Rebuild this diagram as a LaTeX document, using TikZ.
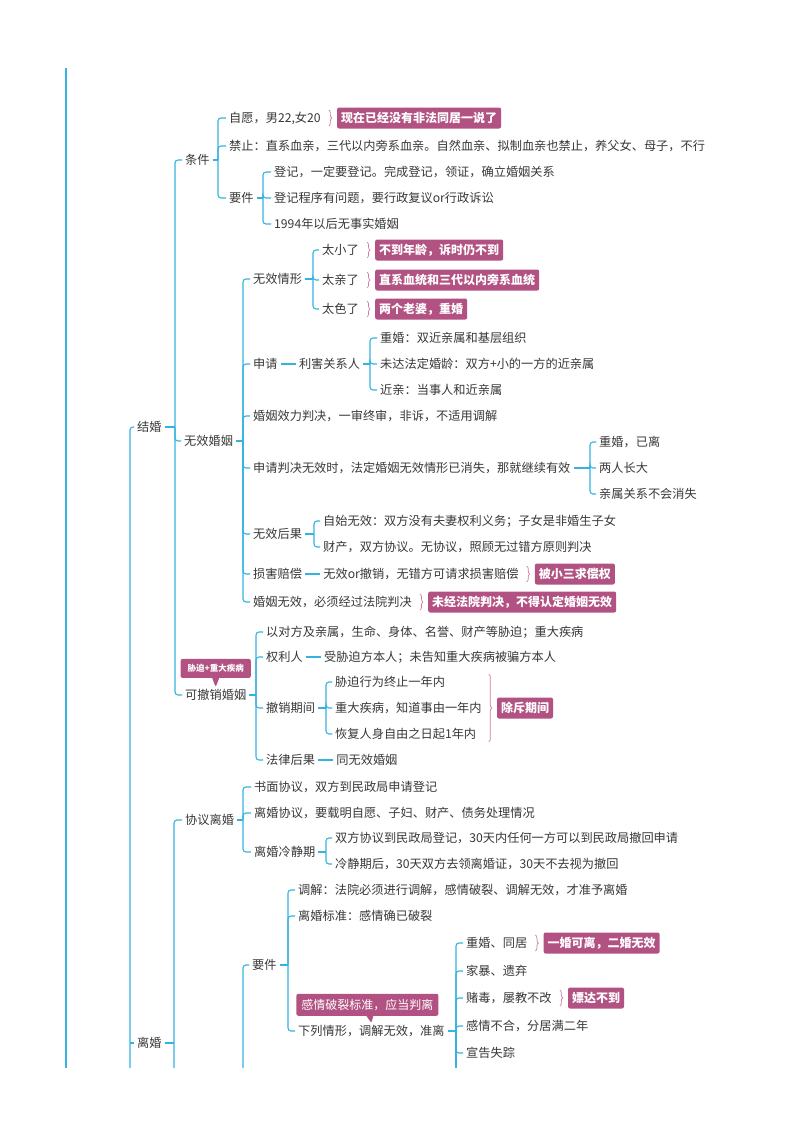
\documentclass[tikz,border=0pt]{standalone}
\usepackage{fontspec}
\newfontfamily\cjk{Noto Sans CJK SC}
\usetikzlibrary{positioning,decorations.pathreplacing,shapes.callouts}

\definecolor{linecyan}{RGB}{52,178,224}
\definecolor{notemauve}{RGB}{178,82,130}
\definecolor{bracepink}{RGB}{205,125,165}
\definecolor{txtgray}{RGB}{55,55,55}

% bracket from a parent to its children, vertical line at x = #2
\newcommand{\mmfork}[3]{%
  \coordinate (fk) at (#2,0);
  \draw[link] (#1.east) -- (#1.east -| fk);
  \foreach \kid in {#3} {\draw[fork] (#1.east -| fk) |- (\kid.west);}
}
% small brace with a tag behind a node
\newcommand{\mmtag}[3]{%
  \draw[curly] ([xshift=5pt,yshift=8pt]#1.east) -- ([xshift=5pt,yshift=-8pt]#1.east);
  \node[tag, right=13pt of #1] (#2) {#3};
}

\begin{document}
\begin{tikzpicture}[
    x=1pt, y=-1pt,
    node distance=15pt,
    topic/.style={anchor=west, inner xsep=3pt, inner ysep=2pt, text=txtgray, font=\cjk\fontsize{12.2}{14}\selectfont},
    tag/.style={anchor=west, fill=notemauve, rounded corners=2pt, minimum height=21pt, inner xsep=4pt, inner ysep=2pt, text=white, font=\cjk\bfseries\fontsize{12}{14}\selectfont},
    note/.style={rectangle callout, fill=notemauve, rounded corners=2pt, callout pointer width=7pt, text=white, inner xsep=5pt},
    link/.style={draw=linecyan, line width=1.1pt},
    fork/.style={link, rounded corners=3pt},
    curly/.style={draw=bracepink, line width=0.7pt, decorate, decoration={brace, amplitude=3pt}}
]
\useasboundingbox (0,0) rectangle (800,1132);

% spine and top level
\coordinate (spinetop) at (66,68);
\coordinate (spinebot) at (66,1068);
\draw[link, line width=2.6pt] (spinetop) -- (spinebot);

\node[topic] (jiehun) at (134,427) {结婚};
\node[topic] (lihun) at (134,1043) {离婚};
\coordinate (rootend) at (130,1068);
\draw[fork] (rootend) |- (jiehun.west);
\draw[link] (lihun.west -| rootend) -- (lihun.west);

% 结婚
\node[topic] (tiaojian) at (182,160) {条件};
\node[topic] (wuxiao) at (181,441) {无效婚姻};
\node[topic] (kechexiao) at (182,695) {可撤销婚姻};
\mmfork{jiehun}{175}{tiaojian,wuxiao,kechexiao}

% 条件
\node[topic] (ziyuan) at (226,118) {自愿，男22,女20};
\node[topic] (jinzhi) at (226,146) {禁止：直系血亲，三代以内旁系血亲。自然血亲、拟制血亲也禁止，养父女、母子，不行};
\node[topic] (yaojian) at (226,198) {要件};
\mmfork{tiaojian}{218}{ziyuan,jinzhi,yaojian}
\mmtag{ziyuan}{tongju}{现在已经没有非法同居一说了}

\node[topic] (dengji) at (271,172) {登记，一定要登记。完成登记，领证，确立婚姻关系};
\node[topic] (chengxu) at (271,198) {登记程序有问题，要行政复议or行政诉讼};
\node[topic] (shishi) at (271,224) {1994年以后无事实婚姻};
\mmfork{yaojian}{263}{dengji,chengxu,shishi}

% 无效婚姻
\node[topic] (qingxing) at (250,279) {无效情形};
\node[topic] (shenqing) at (250,364) {申请};
\node[topic] (xiaoli) at (250,416) {婚姻效力判决，一审终审，非诉，不适用调解};
\node[topic] (panjue) at (250,468) {申请判决无效时，法定婚姻无效情形已消失，那就继续有效};
\node[topic] (houguo) at (250,534) {无效后果};
\node[topic] (peichang) at (250,574) {损害赔偿};
\node[topic] (bixu) at (250,602) {婚姻无效，必须经过法院判决};
\mmfork{wuxiao}{243}{qingxing,shenqing,xiaoli,panjue,houguo,peichang,bixu}

\node[topic] (taixiao) at (319,250) {太小了};
\node[topic] (taiqin) at (319,280) {太亲了};
\node[topic] (taise) at (319,309) {太色了};
\mmfork{qingxing}{313}{taixiao,taiqin,taise}
\mmtag{taixiao}{nianling}{不到年龄，诉时仍不到}
\mmtag{taiqin}{xuetong}{直系血统和三代以内旁系血统}
\mmtag{taise}{laopo}{两个老婆，重婚}

\node[topic, right=of shenqing] (lihai) {利害关系人};
\draw[link] (shenqing) -- (lihai);
\node[topic] (chonghun) at (377,338) {重婚：双近亲属和基层组织};
\node[topic] (weida) at (377,364) {未达法定婚龄：双方+小的一方的近亲属};
\node[topic] (jinqin) at (377,390) {近亲：当事人和近亲属};
\mmfork{lihai}{370}{chonghun,weida,jinqin}

\node[topic] (yili) at (596,442) {重婚，已离};
\node[topic] (zhangda) at (596,468) {两人长大};
\node[topic] (qinshu) at (596,494) {亲属关系不会消失};
\mmfork{panjue}{590}{yili,zhangda,qinshu}

\node[topic] (zishi) at (320,521) {自始无效：双方没有夫妻权利义务；子女是非婚生子女};
\node[topic] (caichan) at (320,547) {财产，双方协议。无协议，照顾无过错方原则判决};
\mmfork{houguo}{314}{zishi,caichan}

\node[topic, right=of peichang] (wucuo) {无效or撤销，无错方可请求损害赔偿};
\draw[link] (peichang) -- (wucuo);
\mmtag{wucuo}{qiuchang}{被小三求偿权}
\mmtag{bixu}{rending}{未经法院判决，不得认定婚姻无效}

% 可撤销婚姻
\node[note, font=\cjk\bfseries\fontsize{8.5}{9}\selectfont, inner xsep=7pt, minimum height=19pt, above=9pt of kechexiao, callout absolute pointer={(kechexiao.north)}] (xiepobing) {胁迫+重大疾病};

\node[topic] (xiepo) at (263,632) {以对方及亲属，生命、身体、名誉、财产等胁迫；重大疾病};
\node[topic] (quanli) at (263,657) {权利人};
\node[topic] (qijian) at (263,708) {撤销期间};
\node[topic] (falv) at (263,760) {法律后果};
\mmfork{kechexiao}{256}{xiepo,quanli,qijian,falv}

\node[topic, right=of quanli] (shouxie) {受胁迫方本人；未告知重大疾病被骗方本人};
\draw[link] (quanli) -- (shouxie);

\node[topic] (xingwei) at (332,682) {胁迫行为终止一年内};
\node[topic] (jibing) at (332,708) {重大疾病，知道事由一年内};
\node[topic] (huifu) at (332,734) {恢复人身自由之日起1年内};
\mmfork{qijian}{326}{xingwei,jibing,huifu}
\path ([xshift=4pt]jibing.east) coordinate (cqx);
\draw[curly] (cqx |- xingwei.north) -- (cqx |- huifu.south);
\node[tag] (chuchi) at ([xshift=8pt]cqx) {除斥期间};

\node[topic, right=of falv] (tongwu) {同无效婚姻};
\draw[link] (falv) -- (tongwu);

% 离婚
\node[topic] (xieyi) at (182,820) {协议离婚};
\coordinate (lihunend) at (174,1068);
\draw[link] (lihun.east) -- (lihun.east -| lihunend);
\draw[fork] (lihunend) |- (xieyi.west);

\node[topic] (shumian) at (251,787) {书面协议，双方到民政局申请登记};
\node[topic] (xieyishu) at (251,813) {离婚协议，要载明自愿、子妇、财产、债务处理情况};
\node[topic] (lengjing) at (251,852) {离婚冷静期};
\mmfork{xieyi}{243}{shumian,xieyishu,lengjing}

\node[topic] (chehui) at (332,838) {双方协议到民政局登记，30天内任何一方可以到民政局撤回申请};
\node[topic] (lingzheng) at (332,864) {冷静期后，30天双方去领离婚证，30天不去视为撤回};
\mmfork{lengjing}{326}{chehui,lingzheng}

\node[topic] (lhyaojian) at (249,965) {要件};
\coordinate (susongend) at (243,1068);
\draw[fork] (susongend) |- (lhyaojian.west);

\node[topic] (tiaojie) at (295,890) {调解：法院必须进行调解，感情破裂、调解无效，才准予离婚};
\node[topic] (biaozhun) at (295,916) {离婚标准：感情确已破裂};
\node[topic] (xialie) at (295,1031) {下列情形，调解无效，准离};
\mmfork{lhyaojian}{288}{tiaojie,biaozhun,xialie}

\node[note, font=\cjk\fontsize{12}{14}\selectfont, minimum height=22pt, above=7pt of xialie, xshift=-4pt, callout absolute pointer={(xialie.north)}] (panli) {感情破裂标准，应当判离};

\node[topic] (chongju) at (463,943) {重婚、同居};
\node[topic] (jiabao) at (463,971) {家暴、遗弃};
\node[topic] (dudu) at (463,998) {赌毒，屡教不改};
\node[topic] (fenju) at (463,1026) {感情不合，分居满二年};
\node[topic] (shizong) at (463,1053) {宣告失踪};
\mmfork{xialie}{456}{chongju,jiabao,dudu,fenju,shizong}
\coordinate (xialieend) at (456,1068);
\draw[link] (xialie.east -| xialieend) -- (xialieend);
\mmtag{chongju}{erhun}{一婚可离，二婚无效}
\mmtag{dudu}{piao}{嫖达不到}
\end{tikzpicture}
\end{document}
